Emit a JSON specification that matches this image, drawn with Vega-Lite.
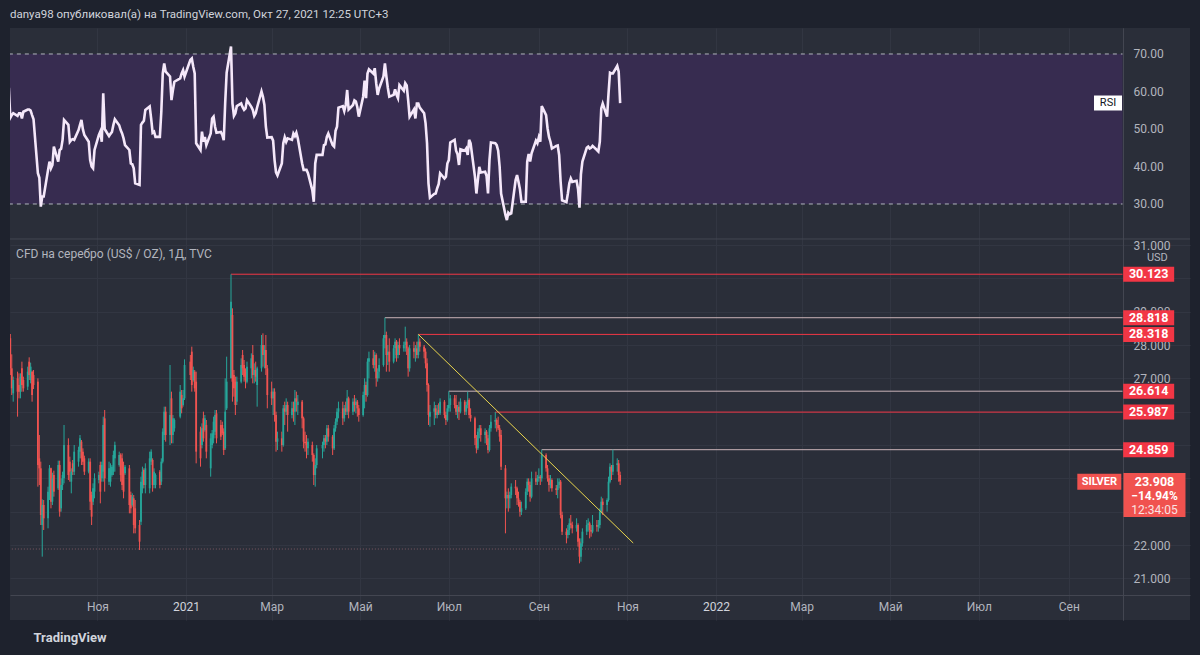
{
"$schema":"https://vega.github.io/schema/vega-lite/v6.json",
"width":1180,"height":592,
"autosize":{"type":"none"},
"padding":{"left":10,"top":28,"right":10,"bottom":35},
"background":"#1e222d",
"config":{"view":{"fill":"#2a2e39","stroke":null},"font":"Roboto","axis":{"labelFont":"Roboto","titleFont":"Roboto"}},
"title":{"text":"danya98 опубликовал(а) на TradingView.com, Окт 27, 2021 12:25 UTC+3","anchor":"start","frame":"group","offset":8,"fontSize":11.5,"fontWeight":"normal","color":"#d1d4dc","font":"Roboto"},
"datasets":{
"bars":[
{"t":"2020-09-01","o":27.9,"h":28.5,"l":27.7,"c":28.2,"r":61},
{"t":"2020-09-02","o":28.2,"h":28.33,"l":27.1,"c":27.3,"r":53},
{"t":"2020-09-03","o":27.3,"h":27.72,"l":26.5,"c":26.7,"r":53.7},
{"t":"2020-09-04","o":26.55,"h":27.05,"l":26.3,"c":26.95,"r":54.2},
{"t":"2020-09-07","o":27.0,"h":27.2,"l":25.85,"c":26.6,"r":53.5},
{"t":"2020-09-08","o":26.8,"h":27.15,"l":26.4,"c":26.6,"r":54.2},
{"t":"2020-09-09","o":26.6,"h":27.15,"l":26.4,"c":27.05,"r":54.2},
{"t":"2020-09-10","o":27.3,"h":27.5,"l":26.6,"c":26.8,"r":52.8},
{"t":"2020-09-11","o":26.95,"h":27.05,"l":26.6,"c":26.7,"r":54.6},
{"t":"2020-09-14","o":26.75,"h":27.35,"l":26.65,"c":27.2,"r":55.2},
{"t":"2020-09-15","o":27.5,"h":27.63,"l":26.95,"c":27.1,"r":55.2},
{"t":"2020-09-16","o":26.95,"h":27.47,"l":26.85,"c":27.35,"r":54.9},
{"t":"2020-09-17","o":27.2,"h":27.23,"l":26.3,"c":26.5,"r":53.7},
{"t":"2020-09-18","o":27.1,"h":27.25,"l":26.68,"c":26.8,"r":52.6},
{"t":"2020-09-21","o":26.9,"h":27.0,"l":23.75,"c":24.4,"r":38.2},
{"t":"2020-09-22","o":24.6,"h":25.3,"l":23.8,"c":24.3,"r":37},
{"t":"2020-09-23","o":24.3,"h":24.5,"l":22.6,"c":22.9,"r":29.3},
{"t":"2020-09-24","o":22.6,"h":23.37,"l":21.65,"c":23.2,"r":32},
{"t":"2020-09-25","o":23.2,"h":23.35,"l":22.45,"c":22.8,"r":32},
{"t":"2020-09-28","o":22.8,"h":23.75,"l":22.5,"c":23.6,"r":39.1},
{"t":"2020-09-29","o":23.6,"h":24.4,"l":23.35,"c":24.3,"r":41.3},
{"t":"2020-09-30","o":24.3,"h":24.32,"l":23.1,"c":23.3,"r":39.5},
{"t":"2020-10-01","o":23.3,"h":24.17,"l":23.2,"c":24.0,"r":40.4},
{"t":"2020-10-02","o":24.1,"h":24.23,"l":23.45,"c":23.6,"r":45.3},
{"t":"2020-10-05","o":23.7,"h":24.53,"l":23.65,"c":24.4,"r":41.3},
{"t":"2020-10-06","o":24.4,"h":24.53,"l":22.85,"c":23.0,"r":44.4},
{"t":"2020-10-07","o":23.1,"h":24.0,"l":23.0,"c":23.8,"r":44.7},
{"t":"2020-10-08","o":23.8,"h":24.2,"l":23.65,"c":24.1,"r":47.1},
{"t":"2020-10-09","o":24.0,"h":25.6,"l":23.85,"c":25.0,"r":52.4},
{"t":"2020-10-12","o":25.0,"h":25.2,"l":23.95,"c":24.1,"r":51.1},
{"t":"2020-10-13","o":24.5,"h":24.65,"l":23.9,"c":24.2,"r":46.6},
{"t":"2020-10-14","o":23.9,"h":24.3,"l":23.55,"c":24.2,"r":47.1},
{"t":"2020-10-15","o":24.45,"h":24.55,"l":24.1,"c":24.2,"r":47.3},
{"t":"2020-10-16","o":24.2,"h":25.0,"l":24.1,"c":24.8,"r":47.1},
{"t":"2020-10-19","o":24.5,"h":24.95,"l":24.35,"c":24.85,"r":49.7},
{"t":"2020-10-20","o":24.8,"h":25.3,"l":24.6,"c":25.2,"r":51.1},
{"t":"2020-10-21","o":25.1,"h":25.15,"l":24.4,"c":24.6,"r":52.4},
{"t":"2020-10-22","o":24.8,"h":24.9,"l":24.4,"c":24.5,"r":49.9},
{"t":"2020-10-23","o":24.6,"h":24.68,"l":24.1,"c":24.2,"r":48.4},
{"t":"2020-10-26","o":24.2,"h":24.6,"l":24.15,"c":24.5,"r":46.6},
{"t":"2020-10-27","o":24.5,"h":24.6,"l":23.05,"c":23.3,"r":41.7},
{"t":"2020-10-28","o":23.5,"h":23.6,"l":22.6,"c":22.85,"r":40},
{"t":"2020-10-29","o":23.3,"h":23.85,"l":23.2,"c":23.7,"r":39.5},
{"t":"2020-10-30","o":23.6,"h":24.15,"l":23.4,"c":24.0,"r":44.4},
{"t":"2020-11-02","o":23.95,"h":24.2,"l":23.85,"c":24.1,"r":48.4},
{"t":"2020-11-03","o":24.4,"h":24.5,"l":23.25,"c":23.6,"r":49.3},
{"t":"2020-11-04","o":24.0,"h":24.5,"l":23.9,"c":24.4,"r":46.6},
{"t":"2020-11-05","o":24.2,"h":25.85,"l":23.9,"c":25.6,"r":59.5},
{"t":"2020-11-06","o":25.8,"h":26.05,"l":23.6,"c":24.0,"r":50},
{"t":"2020-11-09","o":23.9,"h":24.5,"l":23.8,"c":24.3,"r":48.1},
{"t":"2020-11-10","o":23.9,"h":24.45,"l":23.75,"c":24.3,"r":48.7},
{"t":"2020-11-11","o":24.1,"h":24.4,"l":24.05,"c":24.35,"r":49.2},
{"t":"2020-11-12","o":24.2,"h":24.83,"l":24.1,"c":24.7,"r":51.1},
{"t":"2020-11-13","o":24.6,"h":25.1,"l":24.2,"c":25.0,"r":52.6},
{"t":"2020-11-16","o":24.4,"h":24.8,"l":24.35,"c":24.7,"r":51},
{"t":"2020-11-17","o":24.7,"h":24.75,"l":23.9,"c":24.1,"r":49.7},
{"t":"2020-11-18","o":24.6,"h":24.75,"l":23.65,"c":23.8,"r":48.8},
{"t":"2020-11-19","o":24.3,"h":24.5,"l":23.4,"c":23.6,"r":47.5},
{"t":"2020-11-20","o":24.15,"h":24.4,"l":24.1,"c":24.35,"r":45.7},
{"t":"2020-11-23","o":24.3,"h":24.4,"l":22.95,"c":23.2,"r":44.4},
{"t":"2020-11-24","o":23.5,"h":23.6,"l":22.95,"c":23.1,"r":40.8},
{"t":"2020-11-25","o":23.2,"h":23.55,"l":23.15,"c":23.45,"r":40.6},
{"t":"2020-11-26","o":23.4,"h":23.5,"l":22.35,"c":22.6,"r":39.5},
{"t":"2020-11-27","o":23.1,"h":23.35,"l":22.35,"c":22.5,"r":35.5},
{"t":"2020-11-30","o":22.6,"h":22.75,"l":21.85,"c":22.1,"r":35.1},
{"t":"2020-12-01","o":22.7,"h":24.05,"l":22.6,"c":23.9,"r":51.1},
{"t":"2020-12-02","o":23.7,"h":24.35,"l":23.55,"c":24.2,"r":51.7},
{"t":"2020-12-03","o":24.25,"h":24.3,"l":23.7,"c":23.8,"r":52.2},
{"t":"2020-12-04","o":23.8,"h":24.45,"l":23.55,"c":24.3,"r":55.1},
{"t":"2020-12-07","o":23.7,"h":24.8,"l":23.55,"c":24.6,"r":56},
{"t":"2020-12-08","o":24.5,"h":24.87,"l":24.4,"c":24.8,"r":52.8},
{"t":"2020-12-09","o":24.55,"h":24.6,"l":23.6,"c":23.8,"r":49},
{"t":"2020-12-10","o":23.8,"h":24.3,"l":23.7,"c":24.2,"r":49.3},
{"t":"2020-12-11","o":23.8,"h":24.15,"l":23.7,"c":24.1,"r":47.9},
{"t":"2020-12-14","o":24.2,"h":24.25,"l":23.7,"c":23.8,"r":47.9},
{"t":"2020-12-15","o":23.9,"h":24.6,"l":23.8,"c":24.5,"r":54.6},
{"t":"2020-12-16","o":24.5,"h":25.5,"l":24.45,"c":25.4,"r":64.8},
{"t":"2020-12-17","o":25.3,"h":26.15,"l":25.15,"c":26.0,"r":67.5},
{"t":"2020-12-18","o":26.0,"h":26.15,"l":25.1,"c":25.3,"r":65.3},
{"t":"2020-12-21","o":25.3,"h":27.4,"l":25.0,"c":25.9,"r":64},
{"t":"2020-12-22","o":26.4,"h":26.6,"l":25.05,"c":25.3,"r":57.7},
{"t":"2020-12-23","o":25.3,"h":25.9,"l":25.05,"c":25.8,"r":60.4},
{"t":"2020-12-24","o":25.5,"h":25.8,"l":25.4,"c":25.75,"r":62.6},
{"t":"2020-12-28","o":25.85,"h":26.8,"l":25.8,"c":26.6,"r":63.5},
{"t":"2020-12-29","o":26.5,"h":26.65,"l":25.95,"c":26.1,"r":64.8},
{"t":"2020-12-30","o":26.2,"h":26.65,"l":26.15,"c":26.4,"r":65.7},
{"t":"2020-12-31","o":26.4,"h":27.57,"l":26.35,"c":27.4,"r":64},
{"t":"2021-01-04","o":27.5,"h":27.7,"l":26.95,"c":27.1,"r":68.4},
{"t":"2021-01-05","o":27.8,"h":27.95,"l":26.6,"c":26.8,"r":68.8},
{"t":"2021-01-06","o":26.95,"h":27.35,"l":26.9,"c":27.25,"r":66.6},
{"t":"2021-01-07","o":27.2,"h":27.25,"l":26.6,"c":26.7,"r":64.8},
{"t":"2021-01-08","o":26.9,"h":27.2,"l":24.45,"c":24.8,"r":46.2},
{"t":"2021-01-11","o":25.4,"h":25.55,"l":24.35,"c":24.6,"r":44.4},
{"t":"2021-01-12","o":25.0,"h":25.65,"l":24.9,"c":25.5,"r":49.3},
{"t":"2021-01-13","o":25.8,"h":26.0,"l":25.1,"c":25.2,"r":46.6},
{"t":"2021-01-14","o":25.45,"h":25.9,"l":25.4,"c":25.8,"r":47.9},
{"t":"2021-01-15","o":25.6,"h":25.75,"l":24.6,"c":24.8,"r":45.7},
{"t":"2021-01-18","o":24.3,"h":25.35,"l":24.05,"c":25.2,"r":48.8},
{"t":"2021-01-19","o":25.0,"h":25.45,"l":24.9,"c":25.35,"r":52.8},
{"t":"2021-01-20","o":25.2,"h":25.85,"l":25.05,"c":25.7,"r":53.3},
{"t":"2021-01-21","o":25.4,"h":26.05,"l":25.3,"c":25.9,"r":50.6},
{"t":"2021-01-22","o":25.95,"h":26.05,"l":25.05,"c":25.2,"r":49},
{"t":"2021-01-25","o":25.6,"h":25.75,"l":25.15,"c":25.25,"r":49.2},
{"t":"2021-01-26","o":25.6,"h":25.7,"l":25.3,"c":25.35,"r":48.4},
{"t":"2021-01-27","o":25.4,"h":25.5,"l":24.7,"c":24.85,"r":47},
{"t":"2021-01-28","o":24.9,"h":27.0,"l":24.85,"c":26.0,"r":57},
{"t":"2021-01-29","o":26.1,"h":27.65,"l":26.05,"c":26.9,"r":65},
{"t":"2021-02-01","o":27.0,"h":30.12,"l":27.0,"c":29.3,"r":72},
{"t":"2021-02-02","o":28.9,"h":29.1,"l":26.3,"c":26.9,"r":56.8},
{"t":"2021-02-03","o":27.1,"h":27.25,"l":26.45,"c":26.7,"r":53.5},
{"t":"2021-02-04","o":26.9,"h":27.05,"l":25.9,"c":26.2,"r":54.2},
{"t":"2021-02-05","o":26.3,"h":27.05,"l":26.2,"c":26.9,"r":56.1},
{"t":"2021-02-08","o":26.9,"h":27.6,"l":26.85,"c":27.4,"r":56.8},
{"t":"2021-02-09","o":27.7,"h":27.85,"l":27.1,"c":27.3,"r":55.8},
{"t":"2021-02-10","o":27.4,"h":27.55,"l":26.9,"c":27.05,"r":55.1},
{"t":"2021-02-11","o":27.2,"h":27.3,"l":26.7,"c":26.95,"r":55.5},
{"t":"2021-02-12","o":26.9,"h":27.5,"l":26.85,"c":27.35,"r":57.7},
{"t":"2021-02-15","o":27.3,"h":27.75,"l":27.0,"c":27.6,"r":55.9},
{"t":"2021-02-16","o":27.7,"h":28.0,"l":26.85,"c":27.1,"r":55.1},
{"t":"2021-02-17","o":27.1,"h":27.45,"l":26.85,"c":27.25,"r":53.5},
{"t":"2021-02-18","o":27.25,"h":27.5,"l":26.9,"c":27.05,"r":54.2},
{"t":"2021-02-19","o":26.8,"h":27.35,"l":26.15,"c":27.3,"r":55.8},
{"t":"2021-02-22","o":27.3,"h":28.3,"l":27.2,"c":28.0,"r":60},
{"t":"2021-02-23","o":28.0,"h":28.35,"l":27.35,"c":27.7,"r":58.6},
{"t":"2021-02-24","o":27.7,"h":28.0,"l":27.3,"c":27.85,"r":56.4},
{"t":"2021-02-25","o":27.85,"h":28.3,"l":27.1,"c":27.3,"r":50.6},
{"t":"2021-02-26","o":27.3,"h":27.4,"l":26.1,"c":26.5,"r":47.7},
{"t":"2021-03-01","o":26.6,"h":26.9,"l":26.2,"c":26.4,"r":47.8},
{"t":"2021-03-02","o":26.4,"h":26.7,"l":25.9,"c":26.6,"r":46.9},
{"t":"2021-03-03","o":26.6,"h":26.7,"l":25.7,"c":25.9,"r":41.7},
{"t":"2021-03-04","o":25.9,"h":26.0,"l":24.8,"c":25.1,"r":38.4},
{"t":"2021-03-05","o":25.1,"h":25.4,"l":24.85,"c":25.2,"r":37.6},
{"t":"2021-03-08","o":25.2,"h":25.4,"l":24.8,"c":25.0,"r":40.8},
{"t":"2021-03-09","o":25.0,"h":26.2,"l":24.95,"c":26.1,"r":46.2},
{"t":"2021-03-10","o":26.1,"h":26.3,"l":25.6,"c":26.0,"r":47.8},
{"t":"2021-03-11","o":26.0,"h":26.4,"l":25.9,"c":26.2,"r":46.6},
{"t":"2021-03-12","o":26.2,"h":26.3,"l":25.4,"c":25.9,"r":47.5},
{"t":"2021-03-15","o":25.9,"h":26.3,"l":25.8,"c":26.1,"r":47.1},
{"t":"2021-03-16","o":26.1,"h":26.3,"l":25.7,"c":26.0,"r":48.8},
{"t":"2021-03-17","o":26.0,"h":26.65,"l":25.6,"c":26.4,"r":48.1},
{"t":"2021-03-18","o":26.4,"h":26.6,"l":26.0,"c":26.3,"r":49},
{"t":"2021-03-19","o":26.2,"h":26.5,"l":25.9,"c":26.3,"r":47.5},
{"t":"2021-03-22","o":26.3,"h":26.35,"l":25.5,"c":25.8,"r":40.8},
{"t":"2021-03-23","o":25.8,"h":25.85,"l":24.9,"c":25.1,"r":39.1},
{"t":"2021-03-24","o":25.1,"h":25.4,"l":24.8,"c":25.05,"r":39.1},
{"t":"2021-03-25","o":25.05,"h":25.3,"l":24.6,"c":25.0,"r":39.1},
{"t":"2021-03-26","o":24.9,"h":25.2,"l":24.7,"c":25.1,"r":38.2},
{"t":"2021-03-29","o":25.0,"h":25.1,"l":24.5,"c":24.7,"r":33.7},
{"t":"2021-03-30","o":24.7,"h":24.75,"l":23.8,"c":24.1,"r":30.6},
{"t":"2021-03-31","o":24.1,"h":24.6,"l":23.75,"c":24.4,"r":40.8},
{"t":"2021-04-01","o":24.4,"h":25.0,"l":24.3,"c":24.9,"r":43.1},
{"t":"2021-04-05","o":24.9,"h":25.1,"l":24.6,"c":25.0,"r":43.1},
{"t":"2021-04-06","o":25.0,"h":25.3,"l":24.8,"c":25.2,"r":45.7},
{"t":"2021-04-07","o":25.2,"h":25.3,"l":24.9,"c":25.1,"r":45.9},
{"t":"2021-04-08","o":25.1,"h":25.6,"l":25.0,"c":25.5,"r":47.9},
{"t":"2021-04-09","o":25.5,"h":25.6,"l":25.1,"c":25.25,"r":48.8},
{"t":"2021-04-12","o":25.25,"h":25.3,"l":24.7,"c":24.9,"r":45.7},
{"t":"2021-04-13","o":24.9,"h":25.6,"l":24.85,"c":25.5,"r":45.3},
{"t":"2021-04-14","o":25.5,"h":25.8,"l":25.4,"c":25.7,"r":49.5},
{"t":"2021-04-15","o":25.7,"h":26.1,"l":25.6,"c":26.0,"r":50.6},
{"t":"2021-04-16","o":26.0,"h":26.3,"l":25.8,"c":26.1,"r":55.7},
{"t":"2021-04-19","o":26.1,"h":26.3,"l":25.6,"c":25.8,"r":56.1},
{"t":"2021-04-20","o":25.8,"h":26.2,"l":25.7,"c":26.1,"r":54.8},
{"t":"2021-04-21","o":26.1,"h":26.3,"l":25.9,"c":26.0,"r":56.4},
{"t":"2021-04-22","o":26.0,"h":26.65,"l":25.9,"c":26.4,"r":60.4},
{"t":"2021-04-23","o":26.4,"h":26.45,"l":25.8,"c":26.0,"r":55.2},
{"t":"2021-04-26","o":26.0,"h":26.4,"l":25.9,"c":26.3,"r":56.4},
{"t":"2021-04-27","o":26.3,"h":26.5,"l":26.0,"c":26.2,"r":57.6},
{"t":"2021-04-28","o":26.2,"h":26.4,"l":25.95,"c":26.3,"r":57.3},
{"t":"2021-04-29","o":26.3,"h":26.35,"l":25.85,"c":26.1,"r":55.8},
{"t":"2021-04-30","o":26.1,"h":26.2,"l":25.7,"c":25.9,"r":53.3},
{"t":"2021-05-03","o":25.9,"h":26.6,"l":25.85,"c":26.5,"r":58.6},
{"t":"2021-05-04","o":26.5,"h":27.0,"l":26.1,"c":26.8,"r":62.9},
{"t":"2021-05-05","o":26.8,"h":26.9,"l":26.3,"c":26.5,"r":58.2},
{"t":"2021-05-06","o":26.5,"h":27.6,"l":26.45,"c":27.5,"r":64.8},
{"t":"2021-05-07","o":27.5,"h":27.8,"l":27.0,"c":27.6,"r":65.9},
{"t":"2021-05-10","o":27.6,"h":27.85,"l":27.3,"c":27.4,"r":64.8},
{"t":"2021-05-11","o":27.4,"h":27.8,"l":27.2,"c":27.7,"r":66.2},
{"t":"2021-05-12","o":27.7,"h":27.75,"l":26.75,"c":27.0,"r":62.2},
{"t":"2021-05-13","o":27.0,"h":27.3,"l":26.9,"c":27.2,"r":59.1},
{"t":"2021-05-14","o":27.2,"h":27.6,"l":27.0,"c":27.4,"r":60.8},
{"t":"2021-05-17","o":27.4,"h":28.3,"l":27.35,"c":28.2,"r":64},
{"t":"2021-05-18","o":28.2,"h":28.82,"l":27.9,"c":28.3,"r":67.5},
{"t":"2021-05-19","o":28.3,"h":28.4,"l":27.2,"c":27.7,"r":64},
{"t":"2021-05-20","o":27.7,"h":28.0,"l":27.4,"c":27.8,"r":61},
{"t":"2021-05-21","o":27.8,"h":28.2,"l":27.2,"c":27.5,"r":58.6},
{"t":"2021-05-24","o":27.5,"h":28.0,"l":27.45,"c":27.9,"r":59.1},
{"t":"2021-05-25","o":27.9,"h":28.2,"l":27.6,"c":28.1,"r":60.6},
{"t":"2021-05-26","o":28.1,"h":28.15,"l":27.5,"c":27.7,"r":59.1},
{"t":"2021-05-27","o":27.7,"h":28.1,"l":27.6,"c":28.0,"r":58.2},
{"t":"2021-05-28","o":28.0,"h":28.2,"l":27.7,"c":27.9,"r":61.7},
{"t":"2021-05-31","o":27.9,"h":28.1,"l":27.8,"c":28.0,"r":60.2},
{"t":"2021-06-01","o":28.0,"h":28.55,"l":27.8,"c":28.1,"r":62.2},
{"t":"2021-06-02","o":28.1,"h":28.2,"l":27.7,"c":27.9,"r":61.6},
{"t":"2021-06-03","o":27.9,"h":27.95,"l":27.05,"c":27.3,"r":57.7},
{"t":"2021-06-04","o":27.3,"h":28.0,"l":27.2,"c":27.9,"r":53.3},
{"t":"2021-06-07","o":27.9,"h":28.1,"l":27.6,"c":27.8,"r":55.2},
{"t":"2021-06-08","o":27.8,"h":28.0,"l":27.5,"c":27.9,"r":52.8},
{"t":"2021-06-09","o":27.9,"h":28.1,"l":27.6,"c":27.7,"r":56.8},
{"t":"2021-06-10","o":27.7,"h":28.32,"l":27.6,"c":28.1,"r":56.8},
{"t":"2021-06-11","o":28.1,"h":28.2,"l":27.8,"c":27.95,"r":55.7},
{"t":"2021-06-14","o":27.95,"h":28.0,"l":27.6,"c":27.8,"r":54.2},
{"t":"2021-06-15","o":27.8,"h":27.9,"l":27.3,"c":27.45,"r":51.5},
{"t":"2021-06-16","o":27.45,"h":27.6,"l":26.6,"c":26.8,"r":46.2},
{"t":"2021-06-17","o":26.8,"h":26.85,"l":25.6,"c":25.9,"r":35.5},
{"t":"2021-06-18","o":25.85,"h":26.2,"l":25.55,"c":26.0,"r":31.7},
{"t":"2021-06-21","o":26.0,"h":26.3,"l":25.6,"c":26.1,"r":32.7},
{"t":"2021-06-22","o":26.1,"h":26.2,"l":25.8,"c":25.9,"r":32.8},
{"t":"2021-06-23","o":25.9,"h":26.2,"l":25.8,"c":26.0,"r":34.2},
{"t":"2021-06-24","o":26.05,"h":26.25,"l":25.9,"c":25.95,"r":35.3},
{"t":"2021-06-25","o":25.95,"h":26.4,"l":25.9,"c":26.3,"r":38.2},
{"t":"2021-06-28","o":26.3,"h":26.35,"l":25.8,"c":25.9,"r":36.8},
{"t":"2021-06-29","o":25.9,"h":26.0,"l":25.6,"c":25.75,"r":37.3},
{"t":"2021-06-30","o":25.75,"h":26.2,"l":25.7,"c":26.1,"r":40.8},
{"t":"2021-07-01","o":26.1,"h":26.61,"l":26.0,"c":26.2,"r":41.7},
{"t":"2021-07-02","o":26.2,"h":26.5,"l":26.0,"c":26.4,"r":46.4},
{"t":"2021-07-05","o":26.4,"h":26.5,"l":26.1,"c":26.2,"r":47.1},
{"t":"2021-07-06","o":26.2,"h":26.5,"l":25.9,"c":26.0,"r":44.2},
{"t":"2021-07-07","o":26.0,"h":26.2,"l":25.8,"c":26.1,"r":43.3},
{"t":"2021-07-08","o":26.15,"h":26.3,"l":25.75,"c":26.0,"r":40.4},
{"t":"2021-07-09","o":26.0,"h":26.4,"l":25.95,"c":26.3,"r":44.6},
{"t":"2021-07-12","o":26.3,"h":26.35,"l":25.9,"c":26.0,"r":44.2},
{"t":"2021-07-13","o":26.0,"h":26.3,"l":25.9,"c":26.2,"r":44.8},
{"t":"2021-07-14","o":26.2,"h":26.6,"l":26.1,"c":26.35,"r":43.1},
{"t":"2021-07-15","o":26.35,"h":26.4,"l":25.8,"c":25.9,"r":47.1},
{"t":"2021-07-16","o":25.9,"h":26.1,"l":25.7,"c":25.8,"r":46.2},
{"t":"2021-07-19","o":25.8,"h":25.85,"l":25.0,"c":25.2,"r":37.3},
{"t":"2021-07-20","o":25.2,"h":25.3,"l":24.75,"c":24.9,"r":32.8},
{"t":"2021-07-21","o":24.9,"h":25.5,"l":24.85,"c":25.4,"r":36.4},
{"t":"2021-07-22","o":25.4,"h":25.6,"l":25.2,"c":25.5,"r":39.9},
{"t":"2021-07-23","o":25.5,"h":25.6,"l":25.1,"c":25.3,"r":38.4},
{"t":"2021-07-26","o":25.3,"h":25.5,"l":25.05,"c":25.4,"r":38.6},
{"t":"2021-07-27","o":25.4,"h":25.45,"l":25.0,"c":25.2,"r":37.5},
{"t":"2021-07-28","o":25.2,"h":25.3,"l":24.75,"c":24.85,"r":32.8},
{"t":"2021-07-29","o":24.85,"h":25.6,"l":24.8,"c":25.5,"r":41.7},
{"t":"2021-07-30","o":25.5,"h":25.9,"l":25.4,"c":25.7,"r":46.4},
{"t":"2021-08-02","o":25.7,"h":25.99,"l":25.5,"c":25.75,"r":46.2},
{"t":"2021-08-03","o":25.75,"h":25.8,"l":25.4,"c":25.6,"r":45.7},
{"t":"2021-08-04","o":25.6,"h":25.85,"l":25.45,"c":25.5,"r":44.2},
{"t":"2021-08-05","o":25.5,"h":25.6,"l":25.1,"c":25.25,"r":40},
{"t":"2021-08-06","o":25.3,"h":25.45,"l":24.25,"c":24.35,"r":32.8},
{"t":"2021-08-09","o":24.3,"h":24.4,"l":22.35,"c":23.4,"r":27.1},
{"t":"2021-08-10","o":23.4,"h":23.6,"l":23.1,"c":23.5,"r":25.7},
{"t":"2021-08-11","o":23.5,"h":23.7,"l":23.0,"c":23.4,"r":27.7},
{"t":"2021-08-12","o":23.4,"h":23.6,"l":23.1,"c":23.5,"r":27.3},
{"t":"2021-08-13","o":23.5,"h":23.85,"l":23.4,"c":23.75,"r":27.5},
{"t":"2021-08-16","o":23.75,"h":23.95,"l":23.5,"c":23.7,"r":36.4},
{"t":"2021-08-17","o":23.7,"h":23.75,"l":23.2,"c":23.4,"r":37.7},
{"t":"2021-08-18","o":23.4,"h":23.6,"l":23.15,"c":23.3,"r":35.9},
{"t":"2021-08-19","o":23.3,"h":23.35,"l":22.85,"c":23.0,"r":33.9},
{"t":"2021-08-20","o":23.0,"h":23.3,"l":22.9,"c":23.1,"r":30.6},
{"t":"2021-08-23","o":23.1,"h":23.7,"l":23.05,"c":23.6,"r":30.6},
{"t":"2021-08-24","o":23.6,"h":24.0,"l":23.5,"c":23.9,"r":41.3},
{"t":"2021-08-25","o":23.9,"h":24.0,"l":23.6,"c":23.8,"r":43.3},
{"t":"2021-08-26","o":23.8,"h":23.9,"l":23.3,"c":23.45,"r":41.3},
{"t":"2021-08-27","o":23.45,"h":24.2,"l":23.4,"c":24.0,"r":43.5},
{"t":"2021-08-30","o":24.0,"h":24.2,"l":23.8,"c":23.9,"r":46.9},
{"t":"2021-08-31","o":23.9,"h":24.1,"l":23.8,"c":24.0,"r":46.2},
{"t":"2021-09-01","o":24.0,"h":24.3,"l":23.9,"c":24.05,"r":47.8},
{"t":"2021-09-02","o":24.05,"h":24.1,"l":23.8,"c":24.0,"r":46.6},
{"t":"2021-09-03","o":24.0,"h":24.86,"l":23.9,"c":24.7,"r":56.1},
{"t":"2021-09-06","o":24.7,"h":24.75,"l":24.2,"c":24.3,"r":53.7},
{"t":"2021-09-07","o":24.3,"h":24.4,"l":23.9,"c":24.0,"r":50.2},
{"t":"2021-09-08","o":24.0,"h":24.1,"l":23.6,"c":23.8,"r":47.9},
{"t":"2021-09-09","o":23.8,"h":24.1,"l":23.7,"c":23.95,"r":46.6},
{"t":"2021-09-10","o":23.95,"h":24.0,"l":23.6,"c":23.7,"r":44.8},
{"t":"2021-09-13","o":23.7,"h":23.8,"l":23.5,"c":23.65,"r":45.5},
{"t":"2021-09-14","o":23.65,"h":24.0,"l":23.4,"c":23.8,"r":45.6},
{"t":"2021-09-15","o":23.8,"h":24.0,"l":23.7,"c":23.9,"r":43},
{"t":"2021-09-16","o":23.9,"h":23.95,"l":22.8,"c":22.9,"r":36},
{"t":"2021-09-17","o":22.9,"h":23.0,"l":22.3,"c":22.4,"r":31},
{"t":"2021-09-20","o":22.4,"h":22.5,"l":22.05,"c":22.3,"r":30.5},
{"t":"2021-09-21","o":22.3,"h":22.6,"l":22.2,"c":22.45,"r":32.8},
{"t":"2021-09-22","o":22.45,"h":22.8,"l":22.3,"c":22.65,"r":35.5},
{"t":"2021-09-23","o":22.65,"h":22.9,"l":22.5,"c":22.6,"r":36.8},
{"t":"2021-09-24","o":22.6,"h":22.7,"l":22.35,"c":22.5,"r":35.9},
{"t":"2021-09-27","o":22.5,"h":22.8,"l":22.4,"c":22.6,"r":36.2},
{"t":"2021-09-28","o":22.6,"h":22.65,"l":21.95,"c":22.1,"r":34},
{"t":"2021-09-29","o":22.1,"h":22.2,"l":21.45,"c":21.65,"r":29},
{"t":"2021-09-30","o":21.65,"h":22.2,"l":21.5,"c":22.05,"r":38},
{"t":"2021-10-01","o":22.05,"h":22.5,"l":21.95,"c":22.4,"r":41.3},
{"t":"2021-10-04","o":22.4,"h":22.75,"l":22.3,"c":22.6,"r":45},
{"t":"2021-10-05","o":22.6,"h":22.8,"l":22.4,"c":22.65,"r":45.3},
{"t":"2021-10-06","o":22.65,"h":22.7,"l":22.2,"c":22.45,"r":44.8},
{"t":"2021-10-07","o":22.45,"h":22.6,"l":22.25,"c":22.4,"r":45},
{"t":"2021-10-08","o":22.4,"h":22.9,"l":22.35,"c":22.6,"r":45.5},
{"t":"2021-10-11","o":22.6,"h":22.75,"l":22.4,"c":22.55,"r":44.4},
{"t":"2021-10-12","o":22.55,"h":22.75,"l":22.4,"c":22.6,"r":44},
{"t":"2021-10-13","o":22.6,"h":23.1,"l":22.5,"c":23.0,"r":46.6},
{"t":"2021-10-14","o":23.0,"h":23.45,"l":22.95,"c":23.3,"r":55.5},
{"t":"2021-10-15","o":23.3,"h":23.4,"l":22.9,"c":23.2,"r":56.8},
{"t":"2021-10-18","o":23.2,"h":23.4,"l":23.0,"c":23.35,"r":53.3},
{"t":"2021-10-19","o":23.35,"h":24.05,"l":23.3,"c":23.9,"r":59.5},
{"t":"2021-10-20","o":23.9,"h":24.45,"l":23.85,"c":24.35,"r":65},
{"t":"2021-10-21","o":24.35,"h":24.4,"l":23.95,"c":24.2,"r":64.8},
{"t":"2021-10-22","o":24.2,"h":24.86,"l":24.1,"c":24.4,"r":64.8},
{"t":"2021-10-25","o":24.4,"h":24.6,"l":24.2,"c":24.45,"r":66.8},
{"t":"2021-10-26","o":24.45,"h":24.55,"l":23.9,"c":24.1,"r":65.3},
{"t":"2021-10-27","o":24.1,"h":24.2,"l":23.8,"c":23.908,"r":56.9}
],
"levels":[
{"s":"2021-02-01","p":30.123,"k":"a"},
{"s":"2021-05-18","p":28.818,"k":"b"},
{"s":"2021-06-10","p":28.318,"k":"a"},
{"s":"2021-07-01","p":26.614,"k":"b"},
{"s":"2021-08-02","p":25.987,"k":"a"},
{"s":"2021-09-03","p":24.859,"k":"b"}
]
},
"layer":[
 {"data":{"values":[{}]},"mark":{"type":"rect","color":"#372c50","clip":true},
  "encoding":{
   "x":{"datum":{"year":2020,"month":9,"date":1,"utc":true},"type":"temporal","scale":{"type":"utc"}},
   "x2":{"datum":{"year":2022,"month":10,"date":8,"utc":true}},
   "y":{"datum":70,"type":"quantitative","scale":{"domain":[-80.93,76.93],"nice":false,"zero":false,"padding":0},"axis":null},
   "y2":{"datum":30}}},
 {"data":{"values":[{}]},"mark":{"type":"rule","color":"#b2b5be","strokeDash":[4,4],"strokeWidth":1,"clip":true},
  "encoding":{"x":{"datum":{"year":2020,"month":9,"date":1,"utc":true},"type":"temporal","scale":{"type":"utc"}},"x2":{"datum":{"year":2022,"month":10,"date":8,"utc":true}},
   "y":{"datum":70,"type":"quantitative","scale":{"domain":[-80.93,76.93],"nice":false,"zero":false,"padding":0},"axis":null}}},
 {"data":{"values":[{}]},"mark":{"type":"rule","color":"#b2b5be","strokeDash":[4,4],"strokeWidth":1,"clip":true},
  "encoding":{"x":{"datum":{"year":2020,"month":9,"date":1,"utc":true},"type":"temporal","scale":{"type":"utc"}},"x2":{"datum":{"year":2022,"month":10,"date":8,"utc":true}},
   "y":{"datum":30,"type":"quantitative","scale":{"domain":[-80.93,76.93],"nice":false,"zero":false,"padding":0},"axis":null}}},
 {"data":{"values":[{}]},"mark":{"type":"rule","color":"#434651","strokeWidth":1},
  "encoding":{"y":{"datum":20.67,"type":"quantitative","scale":{"domain":[-80.93,76.93],"nice":false,"zero":false,"padding":0},"axis":null}}},
 {"data":{"name":"bars"},"mark":{"type":"line","color":"#f5e8fa","strokeWidth":2.6,"clip":true},
  "encoding":{
   "x":{"field":"t","type":"temporal",
    "scale":{"type":"utc","nice":false,"padding":0,"domain":[{"year":2020,"month":9,"date":1,"hours":19,"utc":true},{"year":2022,"month":11,"date":23,"hours":11,"utc":true}]},
    "axis":{"orient":"bottom","offset":-25,
     "values":[{"year":2020,"month":11,"date":1,"utc":true},{"year":2021,"month":1,"date":1,"utc":true},{"year":2021,"month":3,"date":1,"utc":true},{"year":2021,"month":5,"date":1,"utc":true},{"year":2021,"month":7,"date":1,"utc":true},{"year":2021,"month":9,"date":1,"utc":true},{"year":2021,"month":11,"date":1,"utc":true},{"year":2022,"month":1,"date":1,"utc":true},{"year":2022,"month":3,"date":1,"utc":true},{"year":2022,"month":5,"date":1,"utc":true},{"year":2022,"month":7,"date":1,"utc":true},{"year":2022,"month":9,"date":1,"utc":true}],
     "labelExpr":"utcmonth(datum.value) == 0 ? utcFormat(datum.value, '%Y') : ['Янв','Фев','Мар','Апр','Май','Июн','Июл','Авг','Сен','Окт','Ноя','Дек'][utcmonth(datum.value)]",
     "labelColor":{"condition":{"test":"utcmonth(datum.value) == 0","value":"#d1d4dc"},"value":"#b2b5be"},
     "labelFontSize":12,"labelPadding":6,"labelOverlap":false,"labelFlush":false,"ticks":false,
     "domainColor":"#434651","grid":true,"gridColor":"#323642",
     "title":"TradingView","titleAnchor":"start","titleAlign":"left","titleX":23,"titleY":42,"titleBaseline":"middle","titleColor":"#d1d4dc","titleFontSize":13,"titleFontWeight":"bold"}},
   "y":{"field":"r","type":"quantitative","scale":{"domain":[-80.93,76.93],"nice":false,"zero":false,"padding":0},
    "axis":{"orient":"right","offset":-67,"values":[30,40,50,60,70],"format":".2f","labelColor":"#b2b5be","labelFontSize":12,"labelPadding":10,"ticks":false,"grid":false,"domainColor":"#434651","title":null,"labelAlign":"left","labelBaseline":"middle"}}}},
 {"data":{"values":[{}]},"mark":{"type":"tick","orient":"horizontal","size":28,"thickness":15,"color":"#ffffff","opacity":1},
  "encoding":{"x":{"datum":{"year":2022,"month":9,"date":28,"utc":true},"type":"temporal","scale":{"type":"utc"}},"y":{"datum":56.93,"type":"quantitative","scale":{"domain":[-80.93,76.93],"nice":false,"zero":false,"padding":0},"axis":null}}},
 {"data":{"values":[{}]},"mark":{"type":"text","text":"RSI","color":"#131722","fontSize":11,"align":"center","baseline":"middle"},
  "encoding":{"x":{"datum":{"year":2022,"month":9,"date":28,"utc":true},"type":"temporal","scale":{"type":"utc"}},"y":{"datum":56.93,"type":"quantitative","scale":{"domain":[-80.93,76.93],"nice":false,"zero":false,"padding":0},"axis":null}}},
 {"data":{"name":"levels"},"mark":{"type":"rule","strokeWidth":1},
  "encoding":{
   "x":{"field":"s","type":"temporal","scale":{"type":"utc"}},
   "x2":{"datum":{"year":2022,"month":10,"date":8,"utc":true}},
   "y":{"field":"p","type":"quantitative","scale":{"domain":[19.75,37.51],"nice":false,"zero":false,"padding":0},
    "axis":{"orient":"right","offset":-67,"values":[21,22,23,24,25,26,27,28,29,30,31],"grid":true,"gridColor":"#323642","labels":false,"ticks":false,"domain":false,"title":null}},
   "color":{"condition":{"test":"datum.k == 'a'","value":"#f23645"},"value":"#c9b3b8"}}},
 {"data":{"values":[{}]},"mark":{"type":"rule","color":"#7d5a63","strokeDash":[1,2],"strokeWidth":1,"clip":true},
  "encoding":{"x":{"datum":{"year":2020,"month":9,"date":1,"utc":true},"type":"temporal","scale":{"type":"utc"}},"x2":{"datum":{"year":2021,"month":10,"date":27,"utc":true}},
   "y":{"datum":21.88,"type":"quantitative","scale":{"domain":[19.75,37.51],"nice":false,"zero":false,"padding":0},"axis":null}}},
 {"data":{"name":"bars"},"mark":{"type":"rule","strokeWidth":1,"clip":true},
  "encoding":{"x":{"field":"t","type":"temporal","scale":{"type":"utc"}},
   "y":{"field":"l","type":"quantitative","scale":{"domain":[19.75,37.51],"nice":false,"zero":false,"padding":0},
    "axis":{"orient":"right","offset":-67,"values":[21,22,27,28,29,31],"format":".3f","labelColor":"#b2b5be","labelFontSize":12,"labelPadding":10,"ticks":false,"grid":false,"domainColor":"#434651","title":null,"labelAlign":"left","labelBaseline":"middle"}},
   "y2":{"field":"h"},
   "color":{"condition":{"test":"datum.c >= datum.o","value":"#26a69a"},"value":"#ef5350"}}},
 {"data":{"name":"bars"},"mark":{"type":"bar","width":1.8,"clip":true},
  "encoding":{"x":{"field":"t","type":"temporal","scale":{"type":"utc"}},
   "y":{"field":"o","type":"quantitative","scale":{"domain":[19.75,37.51],"nice":false,"zero":false,"padding":0},"axis":null},"y2":{"field":"c"},
   "color":{"condition":{"test":"datum.c >= datum.o","value":"#26a69a"},"value":"#ef5350"}}},
 {"data":{"values":[{}]},"mark":{"type":"rule","color":"#e8d44d","strokeWidth":1},
  "encoding":{"x":{"datum":{"year":2021,"month":6,"date":10,"utc":true},"type":"temporal","scale":{"type":"utc"}},"x2":{"datum":{"year":2021,"month":11,"date":5,"utc":true}},
   "y":{"datum":28.318,"type":"quantitative","scale":{"domain":[19.75,37.51],"nice":false,"zero":false,"padding":0},"axis":null},"y2":{"datum":22.06}}},
 {"data":{"name":"levels"},"mark":{"type":"tick","orient":"horizontal","size":51,"thickness":15,"color":"#f23645","opacity":1},
  "encoding":{"x":{"datum":{"year":2022,"month":10,"date":26,"utc":true},"type":"temporal","scale":{"type":"utc"}},
   "y":{"field":"p","type":"quantitative","scale":{"domain":[19.75,37.51],"nice":false,"zero":false,"padding":0},"axis":null}}},
 {"data":{"name":"levels"},"mark":{"type":"text","color":"#ffffff","fontSize":12.5,"fontWeight":"bold","align":"center","baseline":"middle"},
  "encoding":{"x":{"datum":{"year":2022,"month":10,"date":26,"utc":true},"type":"temporal","scale":{"type":"utc"}},
   "y":{"field":"p","type":"quantitative","scale":{"domain":[19.75,37.51],"nice":false,"zero":false,"padding":0},"axis":null},
   "text":{"field":"p","type":"quantitative","format":".3f"}}},
 {"data":{"values":[{}]},"mark":{"type":"tick","orient":"horizontal","size":62,"thickness":44,"color":"#f0524f","opacity":1},
  "encoding":{"x":{"datum":{"year":2022,"month":10,"date":30,"utc":true},"type":"temporal","scale":{"type":"utc"}},
   "y":{"datum":23.5,"type":"quantitative","scale":{"domain":[19.75,37.51],"nice":false,"zero":false,"padding":0},"axis":null}}},
 {"data":{"values":[{}]},"mark":{"type":"text","text":"23.908","color":"#ffffff","fontSize":12.5,"fontWeight":"bold","align":"center","baseline":"middle"},
  "encoding":{"x":{"datum":{"year":2022,"month":10,"date":30,"utc":true},"type":"temporal","scale":{"type":"utc"}},
   "y":{"datum":23.9,"type":"quantitative","scale":{"domain":[19.75,37.51],"nice":false,"zero":false,"padding":0},"axis":null}}},
 {"data":{"values":[{}]},"mark":{"type":"text","text":"−14.94%","color":"#ffffff","fontSize":12,"fontWeight":"bold","align":"center","baseline":"middle"},
  "encoding":{"x":{"datum":{"year":2022,"month":10,"date":30,"utc":true},"type":"temporal","scale":{"type":"utc"}},
   "y":{"datum":23.47,"type":"quantitative","scale":{"domain":[19.75,37.51],"nice":false,"zero":false,"padding":0},"axis":null}}},
 {"data":{"values":[{}]},"mark":{"type":"text","text":"12:34:05","color":"#fbe3e3","fontSize":12,"align":"center","baseline":"middle"},
  "encoding":{"x":{"datum":{"year":2022,"month":10,"date":30,"utc":true},"type":"temporal","scale":{"type":"utc"}},
   "y":{"datum":23.04,"type":"quantitative","scale":{"domain":[19.75,37.51],"nice":false,"zero":false,"padding":0},"axis":null}}},
 {"data":{"values":[{}]},"mark":{"type":"tick","orient":"horizontal","size":44,"thickness":16,"color":"#f0524f","opacity":1},
  "encoding":{"x":{"datum":{"year":2022,"month":9,"date":22,"utc":true},"type":"temporal","scale":{"type":"utc"}},
   "y":{"datum":23.9,"type":"quantitative","scale":{"domain":[19.75,37.51],"nice":false,"zero":false,"padding":0},"axis":null}}},
 {"data":{"values":[{}]},"mark":{"type":"text","text":"SILVER","color":"#ffffff","fontSize":11,"fontWeight":"bold","align":"center","baseline":"middle"},
  "encoding":{"x":{"datum":{"year":2022,"month":9,"date":22,"utc":true},"type":"temporal","scale":{"type":"utc"}},
   "y":{"datum":23.9,"type":"quantitative","scale":{"domain":[19.75,37.51],"nice":false,"zero":false,"padding":0},"axis":null}}},
 {"data":{"values":[{}]},"mark":{"type":"text","text":"CFD на серебро (US$ / OZ), 1Д, TVC","color":"#b2b5be","fontSize":12,"align":"left","baseline":"middle"},
  "encoding":{"x":{"datum":{"year":2020,"month":9,"date":6,"utc":true},"type":"temporal","scale":{"type":"utc"}},
   "y":{"datum":30.73,"type":"quantitative","scale":{"domain":[19.75,37.51],"nice":false,"zero":false,"padding":0},"axis":null}}},
 {"data":{"values":[{}]},"mark":{"type":"text","text":"USD","color":"#b2b5be","fontSize":11,"align":"center","baseline":"middle"},
  "encoding":{"x":{"datum":{"year":2022,"month":11,"date":1,"utc":true},"type":"temporal","scale":{"type":"utc"}},
   "y":{"datum":30.6,"type":"quantitative","scale":{"domain":[19.75,37.51],"nice":false,"zero":false,"padding":0},"axis":null}}}
],
"resolve":{"scale":{"y":"independent"}}
}
